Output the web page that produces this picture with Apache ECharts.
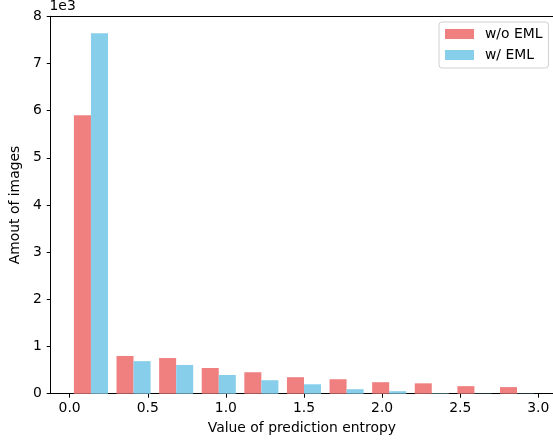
<!DOCTYPE html>
<html>
<head>
<meta charset="utf-8">
<script src="https://cdn.jsdelivr.net/npm/echarts@6/dist/echarts.min.js"></script>
<style>
html,body{margin:0;padding:0;background:#fff;}
#chart{width:553px;height:442px;}
</style>
</head>
<body>
<div id="chart"></div>
<script>
// Bin edges of the entropy histogram
const binEdges = [0, 0.2727, 0.5455, 0.8182, 1.0909, 1.3636, 1.6364, 1.9091, 2.1818, 2.4545, 2.7273, 3.0];
// Counts per bin
const woEML = [5900, 800, 756, 545, 455, 350, 307, 244, 220, 160, 140];
const wEML  = [7640, 690, 610, 396, 286, 200, 95, 53, 10, 5, 5];
const seriesNames = ['w/o EML', 'w/ EML'];
const xTicks = [0.0, 0.5, 1.0, 1.5, 2.0, 2.5, 3.0];
const yTicks = [0, 1000, 2000, 3000, 4000, 5000, 6000, 7000, 8000];

const FONT = 'DejaVu Sans';
const FS = 13.9;
const chart = echarts.init(document.getElementById('chart'), null, {renderer: 'canvas'});

function toData(vals) {
  return vals.map((v, i) => [binEdges[i], binEdges[i + 1], v]);
}
function makeRender(a, b) {
  return function (params, api) {
    const l = api.value(0), r = api.value(1), v = api.value(2);
    const w = r - l;
    const p0 = api.coord([l + a * w, v]);
    const p1 = api.coord([l + b * w, 0]);
    return {
      type: 'rect',
      shape: {x: p0[0], y: p0[1], width: p1[0] - p0[0], height: p1[1] - p0[1]},
      style: {fill: api.visual('color')}
    };
  };
}

const XMIN = -0.121, XMAX = 3.094;

chart.setOption({
  animation: false,
  backgroundColor: '#fff',
  textStyle: {fontFamily: FONT},
  grid: {left: 48.3, right: 0, top: 16.3, bottom: 48.3, show: false},
  legend: {
    orient: 'vertical',
    left: 439, top: 22,
    align: 'left',
    itemWidth: 29, itemHeight: 10,
    itemGap: 5,
    padding: [4, 6, 5, 6],
    borderColor: '#d0d0d0', borderWidth: 1, borderRadius: 3,
    backgroundColor: 'rgba(255,255,255,0.8)',
    textStyle: {fontFamily: FONT, fontSize: FS, color: '#000', lineHeight: 16, padding: [0, 0, 0, 6]},
    data: [{name: seriesNames[0], icon: 'rect'}, {name: seriesNames[1], icon: 'rect'}]
  },
  graphic: [{
    type: 'text', x: 49.5, y: 6,
    style: {text: '1e3', fontFamily: FONT, fontSize: FS, fill: '#000', verticalAlign: 'middle'}
  }],
  xAxis: [{
    type: 'value', min: XMIN, max: XMAX,
    name: 'Value of prediction entropy', nameLocation: 'middle', nameGap: 27.5,
    nameTextStyle: {fontFamily: FONT, fontSize: FS, color: '#000'},
    axisLine: {show: true, onZero: false, lineStyle: {color: '#000', width: 1}},
    axisTick: {show: true, length: 4, lineStyle: {color: '#000'}, customValues: xTicks},
    axisLabel: {fontFamily: FONT, fontSize: FS, color: '#000', margin: 8, customValues: xTicks,
      formatter: v => Number(v).toFixed(1)},
    splitLine: {show: false}
  }, {
    type: 'value', position: 'top', min: XMIN, max: XMAX,
    axisLine: {show: true, onZero: false, lineStyle: {color: '#000', width: 1}},
    axisTick: {show: false}, axisLabel: {show: false}, splitLine: {show: false}
  }],
  yAxis: {
    type: 'value', min: 0, max: 8000, interval: 1000,
    name: 'Amout of images', nameLocation: 'middle', nameGap: 22,
    nameTextStyle: {fontFamily: FONT, fontSize: FS, color: '#000'},
    axisLine: {show: true, onZero: false, lineStyle: {color: '#000', width: 1}},
    axisTick: {show: true, length: 4, lineStyle: {color: '#000'}, customValues: yTicks},
    axisLabel: {fontFamily: FONT, fontSize: FS, color: '#000', margin: 9, customValues: yTicks,
      formatter: v => String(Math.round(v / 1000))},
    splitLine: {show: false}
  },
  series: [
    {name: seriesNames[0], type: 'custom', itemStyle: {color: '#F08080'},
     encode: {x: [0, 1], y: 2}, data: toData(woEML), renderItem: makeRender(0.1, 0.5)},
    {name: seriesNames[1], type: 'custom', itemStyle: {color: '#87CEEB'},
     encode: {x: [0, 1], y: 2}, data: toData(wEML), renderItem: makeRender(0.5, 0.9)}
  ]
});
</script>
</body>
</html>
